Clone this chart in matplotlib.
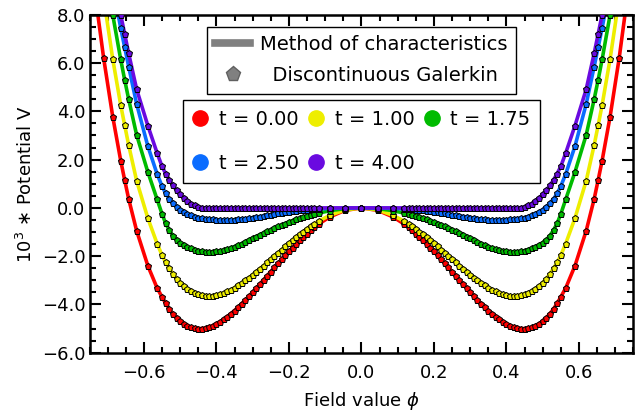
import numpy as np
import matplotlib
matplotlib.use("Agg")
import matplotlib.pyplot as plt
from matplotlib.lines import Line2D
from matplotlib.ticker import MultipleLocator, FuncFormatter

# Field values (phi >= 0); the potential is symmetric in phi
phi_half = [0.0, 0.046, 0.088, 0.117,
            0.13, 0.14, 0.15, 0.16, 0.17, 0.18, 0.19, 0.20, 0.21, 0.22,
            0.23, 0.24, 0.25, 0.26, 0.27, 0.28, 0.29, 0.30, 0.31, 0.32,
            0.33, 0.34, 0.35, 0.36, 0.37, 0.38, 0.39, 0.40, 0.41, 0.42,
            0.43, 0.44, 0.45, 0.46, 0.47, 0.48, 0.49, 0.50, 0.51, 0.52,
            0.53, 0.54, 0.55,
            0.5635, 0.589, 0.620, 0.642, 0.653, 0.664, 0.686, 0.711, 0.735]

# 10^3 * V at phi_half for each time
V_t000 = [0.0, -0.105, -0.380, -0.661,
          -0.809, -0.932, -1.062, -1.198, -1.341, -1.489, -1.642, -1.800, -1.962, -2.127,
          -2.295, -2.465, -2.637, -2.809, -2.981, -3.152, -3.321, -3.488, -3.651, -3.809,
          -3.963, -4.110, -4.249, -4.380, -4.502, -4.614, -4.713, -4.800, -4.873, -4.930,
          -4.972, -4.995, -4.999, -4.983, -4.945, -4.884, -4.799, -4.688, -4.548, -4.381,
          -4.182, -3.951, -3.687,
          -3.32, -2.40, -0.95, 0.37, 1.15, 1.96, 3.78, 6.20, 8.90]
V_t100 = [0.0, -0.087, -0.313, -0.543,
          -0.665, -0.765, -0.870, -0.981, -1.096, -1.215, -1.338, -1.465, -1.594, -1.725,
          -1.857, -1.991, -2.124, -2.257, -2.389, -2.519, -2.646, -2.769, -2.888, -3.002,
          -3.110, -3.211, -3.304, -3.387, -3.461, -3.524, -3.575, -3.613, -3.636, -3.645,
          -3.636, -3.610, -3.566, -3.53, -3.46, -3.36, -3.24, -3.09, -2.93, -2.73,
          -2.50, -2.26, -1.96,
          -1.48, -0.43, 1.12, 2.60, 3.42, 4.26, 6.17, 8.70, 11.5]
V_t175 = [0.0, -0.03, -0.12, -0.21,
          -0.25, -0.30, -0.34, -0.39, -0.43, -0.48, -0.53, -0.59, -0.65, -0.71,
          -0.77, -0.84, -0.91, -0.97, -1.04, -1.11, -1.19, -1.26, -1.33, -1.41,
          -1.48, -1.54, -1.60, -1.66, -1.71, -1.75, -1.78, -1.80, -1.815, -1.82,
          -1.815, -1.80, -1.77, -1.73, -1.68, -1.62, -1.54, -1.44, -1.32, -1.15,
          -0.92, -0.64, -0.25,
          0.35, 1.48, 3.02, 4.50, 5.30, 6.15, 8.00, 10.3, 12.6]
V_t250 = [0.0, -0.005, -0.02, -0.04,
          -0.05, -0.06, -0.07, -0.08, -0.10, -0.11, -0.13, -0.15, -0.17, -0.20,
          -0.22, -0.25, -0.28, -0.30, -0.33, -0.36, -0.38, -0.41, -0.43, -0.45,
          -0.47, -0.48, -0.49, -0.50, -0.50, -0.50, -0.50, -0.495, -0.48, -0.47,
          -0.45, -0.42, -0.40, -0.36, -0.31, -0.25, -0.17, -0.07, 0.05, 0.20,
          0.37, 0.60, 0.90,
          1.40, 2.55, 4.30, 5.85, 6.65, 7.45, 9.20, 11.4, 13.6]
V_t400 = [0.0, 0.0, 0.0, 0.0,
          0.0, 0.0, 0.0, 0.0, 0.0, 0.0, 0.0, 0.0, 0.0, 0.0,
          0.0, 0.0, 0.0, 0.0, 0.0, 0.0, 0.0, 0.0, 0.0, 0.0,
          0.0, 0.0, 0.0, 0.0, 0.0, 0.0, 0.0, 0.0, 0.0, 0.0,
          0.0, 0.01, 0.04, 0.10, 0.18, 0.28, 0.41, 0.56, 0.73, 0.93,
          1.16, 1.42, 1.72,
          2.27, 3.40, 4.91, 6.40, 7.20, 8.00, 9.70, 11.8, 14.0]

series = [V_t000, V_t100, V_t175, V_t250, V_t400]
labels = ["t = 0.00", "t = 1.00", "t = 1.75", "t = 2.50", "t = 4.00"]
colors = ["#ff0000", "#eeee00", "#00bb00", "#0a6cff", "#6a0ae0"]

method_labels = ["Method of characteristics", "  Discontinuous Galerkin"]


def mirror(a):
    a = np.asarray(a, dtype=float)
    return np.concatenate([a[:0:-1], a])


phi = np.concatenate([-np.asarray(phi_half)[:0:-1], np.asarray(phi_half)])

fig = plt.figure(figsize=(6.44, 4.18), dpi=100)
ax = fig.add_axes([0.139, 0.156, 0.8444, 0.8088])

for V, c in zip(series, colors):
    ax.plot(phi, mirror(V), color=c, lw=2.6, zorder=2, solid_capstyle="butt")
for V, c in zip(series, colors):
    ax.plot(phi, mirror(V), ls="none", marker="p", ms=4.6, mfc=c, mec="black",
            mew=0.7, zorder=3)

ax.set_xlim(-0.75, 0.75)
ax.set_ylim(-6.0, 8.0)
ax.xaxis.set_major_locator(MultipleLocator(0.2))
ax.xaxis.set_minor_locator(MultipleLocator(0.05))
ax.yaxis.set_major_locator(MultipleLocator(2.0))
ax.yaxis.set_minor_locator(MultipleLocator(0.5))


def fmt(v, pos):
    v = round(v, 6)
    if v == 0:
        v = 0.0
    return f"{v:.1f}".replace("-", "\u2212")


ax.xaxis.set_major_formatter(FuncFormatter(fmt))
ax.yaxis.set_major_formatter(FuncFormatter(fmt))
ax.tick_params(which="both", direction="in", top=True, right=True, width=1.5,
               labelsize=13)
ax.tick_params(which="major", length=8)
ax.tick_params(which="minor", length=4.5)
ax.tick_params(axis="x", pad=8)
ax.tick_params(axis="y", pad=3)
for s in ax.spines.values():
    s.set_linewidth(1.8)

ax.set_xlabel(r"Field value $\phi$", fontsize=13, labelpad=6)
ax.set_ylabel(r"$10^3$ $\ast$ Potential V", fontsize=13, labelpad=4)

h1 = [Line2D([], [], color="#808080", lw=5.5),
      Line2D([], [], ls="none", marker="p", ms=11, mfc="#808080", mec="#606060")]
leg1 = ax.legend(h1, method_labels, loc="upper center", bbox_to_anchor=(0.5, 0.965),
                 fontsize=14, frameon=True, fancybox=False, edgecolor="black",
                 framealpha=1, handlelength=1.8, handletextpad=0.5,
                 labelspacing=0.6, borderpad=0.45, borderaxespad=0)
leg1.get_frame().set_linewidth(1.0)
ax.add_artist(leg1)

order = [0, 3, 1, 4, 2]
h2 = [Line2D([], [], ls="none", marker="o", ms=11, mfc=colors[i], mec=colors[i])
      for i in order]
leg2 = ax.legend(h2, [labels[i] for i in order], ncol=3, loc="upper center",
                 bbox_to_anchor=(0.5, 0.748), fontsize=14, frameon=True,
                 fancybox=False, edgecolor="black", framealpha=1,
                 handlelength=0.8, handletextpad=0.55, columnspacing=0.5,
                 labelspacing=1.3, borderpad=0.5, borderaxespad=0)
leg2.get_frame().set_linewidth(1.0)

fig.savefig("out.png", dpi=100)
